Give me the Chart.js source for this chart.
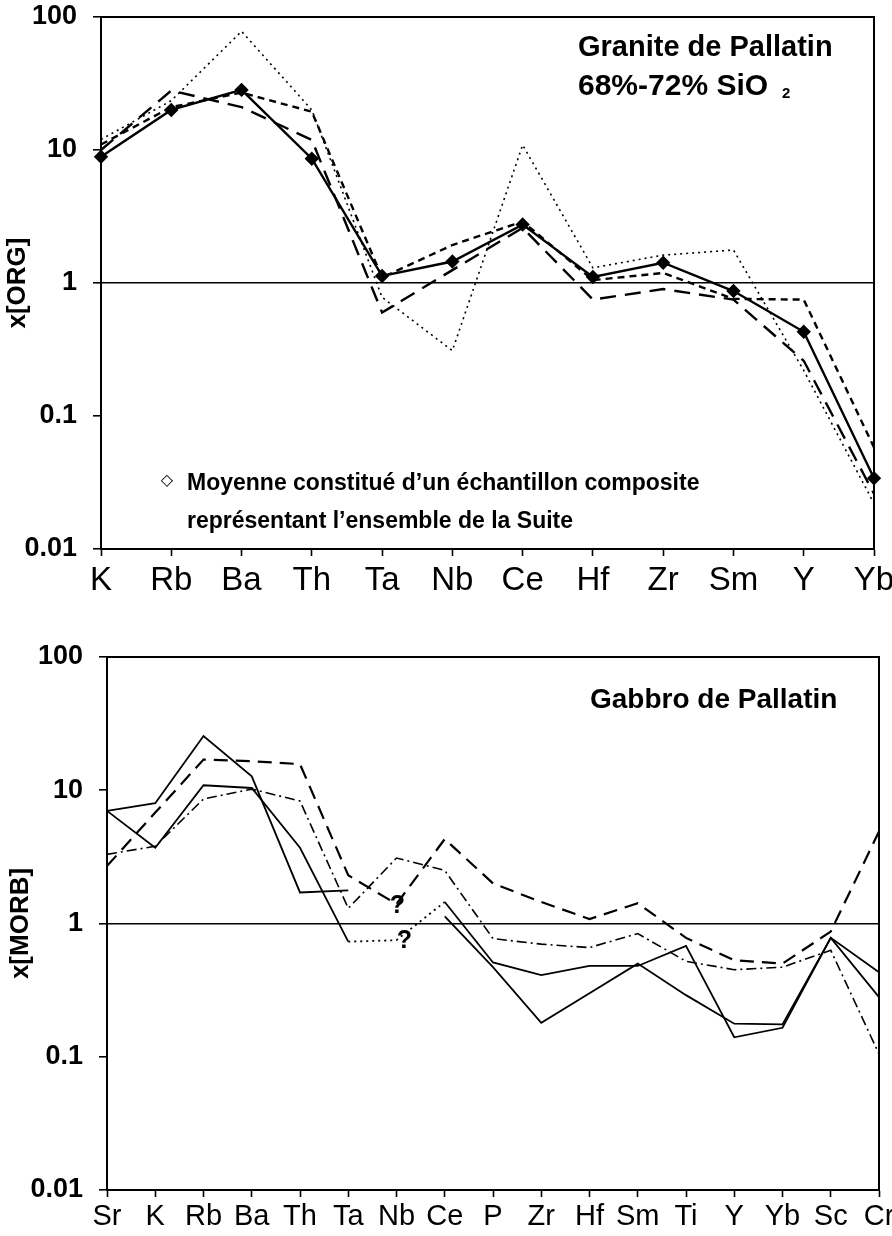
<!DOCTYPE html>
<html><head><meta charset="utf-8">
<script src="https://cdn.jsdelivr.net/npm/chart.js@4/dist/chart.umd.min.js"></script>
<style>
html,body{margin:0;padding:0;background:#fff;}
#wrap{position:relative;width:892px;height:1236px;overflow:hidden;}
canvas{position:absolute;left:0;}
</style></head><body>
<div id="wrap">
<canvas id="c1" style="top:0;width:892px;height:600px"></canvas>
<canvas id="c2" style="top:600px;width:892px;height:636px"></canvas>
</div>
<script>
// ---------- data ----------
const yTickValues = [0.01, 0.1, 1, 10, 100];
const yTickLabels = ['0.01', '0.1', '1', '10', '100'];

const granCats      = ['K','Rb','Ba','Th','Ta','Nb','Ce','Hf','Zr','Sm','Y','Yb'];
const granMean      = [8.9, 20, 28.3, 8.6, 1.13, 1.45, 2.75, 1.11, 1.42, 0.87, 0.43, 0.034];
const granShortDash = [11, 21, 27, 19.4, 1.1, 1.93, 2.9, 1.05, 1.19, 0.76, 0.75, 0.058];
const granLongDash  = [10, 28, 21, 11.9, 0.6, 1.25, 2.6, 0.75, 0.9, 0.75, 0.26, 0.026];
const granDotted    = [12, 23.5, 78, 20, 0.78, 0.31, 10.9, 1.3, 1.62, 1.77, 0.22, 0.022];

const gabCats     = ['Sr','K','Rb','Ba','Th','Ta','Nb','Ce','P','Zr','Hf','Sm','Ti','Y','Yb','Sc','Cr'];
const gabSolidA   = [7.0, 8.0, 25.5, 12.7, 1.71, 1.77, null, 1.13, 0.47, 0.18, 0.30, 0.50, 0.29, 0.177, 0.175, 0.78, 0.28];
const gabSolidB   = [7.0, 3.7, 10.9, 10.4, 3.7, 0.73, 0.75, 1.45, 0.51, 0.41, 0.48, 0.48, 0.68, 0.14, 0.165, 0.78, 0.43];
const gabLongDash = [2.7, 6.8, 17, 16.5, 15.7, 2.3, 1.4, 4.3, 2.0, 1.45, 1.08, 1.42, 0.78, 0.53, 0.5, 0.87, 4.9];
const gabDashDot  = [3.3, 3.8, 8.6, 10.2, 8.3, 1.3, 3.1, 2.5, 0.77, 0.7, 0.66, 0.84, 0.52, 0.45, 0.47, 0.63, 0.105];

const granTitle = ['Granite de Pallatin', '68%-72% SiO', '2'];
const granNote  = ['\u25C7', 'Moyenne constitu\u00e9 d\u2019un \u00e9chantillon composite', 'repr\u00e9sentant l\u2019ensemble de la Suite'];
const gabTitle  = 'Gabbro de Pallatin';
const gabQuestion = [{cat: 'Nb', value: 1.35}, {cat: 'Nb', value: 0.74}];

// ---------- helpers ----------
const FONT = "'Liberation Sans', Arial, Helvetica, sans-serif";
const NARROW = "'Liberation Sans Narrow', 'Arial Narrow', 'Liberation Sans', sans-serif";

const framePlugin = {
  id: 'frame',
  afterDraw(chart, args, opts) {
    const {ctx, chartArea: a} = chart;
    ctx.save();
    ctx.strokeStyle = '#000';
    ctx.lineWidth = 2;
    ctx.strokeRect(a.left, a.top, a.right - a.left, a.bottom - a.top);
    ctx.fillStyle = '#000';
    (opts.texts || []).forEach(t => {
      ctx.font = t.font;
      ctx.textAlign = t.align || 'left';
      ctx.textBaseline = t.baseline || 'alphabetic';
      let x = t.x, y = t.y;
      if (t.cat !== undefined) {
        x = chart.scales.x.getPixelForValue(chart.scales.x.getLabels().indexOf(t.cat)) + (t.dx || 0);
        y = chart.scales.y.getPixelForValue(t.value);
      }
      ctx.fillText(t.text, x, y);
    });
    ctx.restore();
  }
};

function yScale(width, tickFont, pad, titleText, titlePad) {
  return {
    type: 'logarithmic',
    min: 0.01, max: 100,
    afterBuildTicks: s => { s.ticks = yTickValues.map(v => ({value: v})); },
    afterFit: s => { s.width = width; s.paddingTop = 0; s.paddingBottom = 0; },
    border: {display: true, color: '#000', width: 2},
    grid: {
      color: c => (c.tick && c.tick.value === 1) ? '#000' : 'rgba(0,0,0,0)',
      lineWidth: 1.6,
      drawTicks: true,
      tickColor: '#000',
      tickLength: 8,
      tickWidth: 1.6
    },
    ticks: {
      color: '#000',
      font: tickFont,
      padding: pad,
      callback: v => { const i = yTickValues.indexOf(v); return i >= 0 ? yTickLabels[i] : null; }
    },
    title: {display: true, text: titleText, color: '#000', font: {family: FONT, size: 26, weight: 'bold'}, padding: titlePad}
  };
}

function xScale(height, tickFont, pad) {
  return {
    type: 'category',
    offset: false,
    afterFit: s => { s.height = height; s.paddingLeft = 0; s.paddingRight = 0; },
    border: {display: true, color: '#000', width: 2},
    grid: {color: 'rgba(0,0,0,0)', drawTicks: true, tickColor: '#000', tickLength: 7, tickWidth: 1.6},
    ticks: {color: '#000', font: tickFont, padding: pad, autoSkip: false, maxRotation: 0}
  };
}

const baseOpts = {
  responsive: false,
  animation: false,
  devicePixelRatio: 1,
  elements: {point: {radius: 0}, line: {tension: 0, fill: false}}
};

// ---------- chart 1 : granite ----------
const c1 = document.getElementById('c1');
c1.width = 892; c1.height = 600;
new Chart(c1, {
  type: 'line',
  data: {
    labels: granCats,
    datasets: [
      {data: granDotted, borderColor: '#000', borderWidth: 1.6, borderDash: [2, 4], pointRadius: 0},
      {data: granLongDash, borderColor: '#000', borderWidth: 2.4, borderDash: [16, 9], pointRadius: 0},
      {data: granShortDash, borderColor: '#000', borderWidth: 2.4, borderDash: [7, 5], pointRadius: 0},
      {data: granMean, borderColor: '#000', borderWidth: 2.4, pointRadius: 5.5, pointStyle: 'rectRot',
       pointBackgroundColor: '#000', pointBorderColor: '#000'}
    ]
  },
  options: Object.assign({}, baseOpts, {
    layout: {padding: {top: 17, right: 18, left: 0, bottom: 0}},
    scales: {
      x: xScale(51, {family: FONT, size: 33}, 5),
      y: yScale(101, {family: FONT, size: 27, weight: 'bold'}, 16, 'x[ORG]', {top: 2, bottom: 0})
    },
    plugins: {
      legend: {display: false}, tooltip: {enabled: false},
      frame: {texts: [
        {text: granTitle[0], x: 578, y: 56, font: 'bold 29px ' + FONT},
        {text: granTitle[1], x: 578, y: 95, font: 'bold 30px ' + FONT},
        {text: granTitle[2], x: 782, y: 98, font: 'bold 15px ' + FONT},
        {text: granNote[0], x: 167, y: 481, font: 'bold 16px DejaVu Sans', align: 'center', baseline: 'middle'},
        {text: granNote[1], x: 187, y: 490, font: 'bold 23px ' + FONT},
        {text: granNote[2], x: 187, y: 528, font: 'bold 23px ' + FONT}
      ]}
    }
  }),
  plugins: [framePlugin]
});

// ---------- chart 2 : gabbro ----------
const dottedAroundNb = ctx => (ctx.p0DataIndex === 5 || ctx.p0DataIndex === 6) ? [2, 4] : undefined;
const c2 = document.getElementById('c2');
c2.width = 892; c2.height = 636;
new Chart(c2, {
  type: 'line',
  data: {
    labels: gabCats,
    datasets: [
      {data: gabDashDot, borderColor: '#000', borderWidth: 1.6, borderDash: [10, 4, 2, 4]},
      {data: gabLongDash, borderColor: '#000', borderWidth: 2.2, borderDash: [14, 8]},
      {data: gabSolidA, borderColor: '#000', borderWidth: 1.8, spanGaps: false},
      {data: gabSolidB, borderColor: '#000', borderWidth: 1.8, segment: {borderDash: dottedAroundNb}}
    ]
  },
  options: Object.assign({}, baseOpts, {
    layout: {padding: {top: 57, right: 13, left: 0, bottom: 0}},
    scales: {
      x: xScale(46, {family: NARROW, size: 29}, 3),
      y: yScale(107, {family: FONT, size: 27, weight: 'bold'}, 16, 'x[MORB]', {top: 5, bottom: 0})
    },
    plugins: {
      legend: {display: false}, tooltip: {enabled: false},
      frame: {texts: [
        {text: gabTitle, x: 590, y: 108, font: 'bold 28px ' + FONT},
        {text: '?', cat: gabQuestion[0].cat, value: gabQuestion[0].value, dx: 1, font: 'bold 25px ' + FONT, align: 'center', baseline: 'middle'},
        {text: '?', cat: gabQuestion[1].cat, value: gabQuestion[1].value, dx: 8, font: 'bold 25px ' + FONT, align: 'center', baseline: 'middle'}
      ]}
    }
  }),
  plugins: [framePlugin]
});
</script>
</body></html>
